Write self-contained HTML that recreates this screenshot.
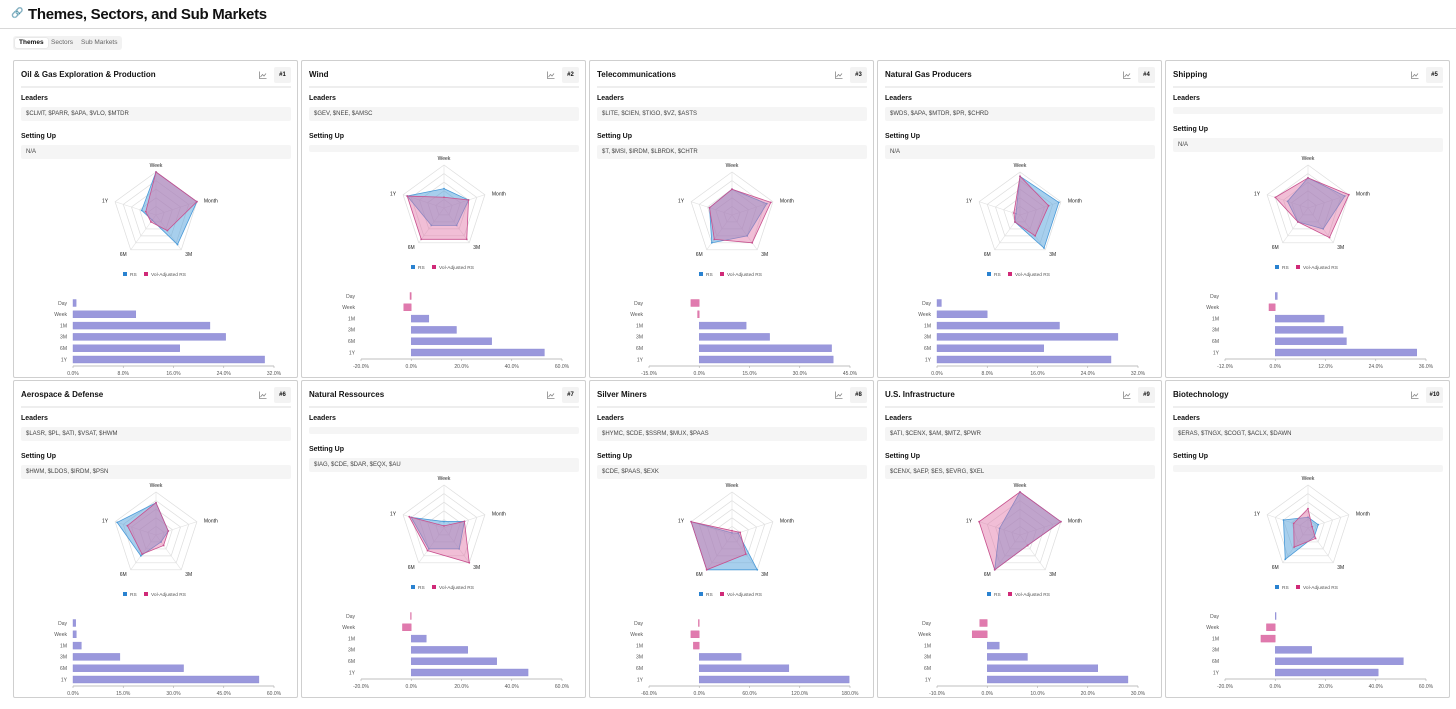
<!DOCTYPE html>
<html><head><meta charset="utf-8">
<style>
*{box-sizing:border-box;margin:0;padding:0}
body{width:1456px;height:702px;background:#fff;font-family:"Liberation Sans",sans-serif;position:relative;overflow:hidden;color:#111}
#hdr{position:absolute;left:0;top:0;width:1456px;height:29px;border-bottom:1px solid #d8d8d8}
#hdr .t{position:absolute;left:28px;top:6px;font-size:15px;font-weight:bold;letter-spacing:-0.3px}
#hdr .i{position:absolute;left:11px;top:8px;font-size:10px;color:#8ab4e8}
#tabs{position:absolute;left:13px;top:36px;width:109px;height:14px;background:#f2f2f2;border-radius:3px;font-size:6.5px}
#tabs span{position:absolute;top:2px;height:10px;line-height:10px;padding:0 4px;color:#666;white-space:nowrap}
#tabs .a{background:#fff;color:#111;font-weight:bold;border-radius:2px;box-shadow:0 0 1px #bbb}
.card{position:absolute;width:285px;height:318px;border:1px solid #cfcfcf;border-radius:2px;background:#fff}
.ct{position:absolute;left:7px;top:9px;font-size:8px;font-weight:bold;white-space:nowrap}
.ic{position:absolute;left:245px;top:10px;width:8px;height:8px}
.bd{position:absolute;left:260px;top:6px;width:17px;height:16px;background:#f3f3f3;border-radius:2px;font-size:6px;font-weight:bold;text-align:center;line-height:16px}
.hr{position:absolute;left:7px;top:25px;width:270px;height:2px;background:#eee}
.lb{position:absolute;left:7px;font-size:7px;font-weight:bold}
.bx{position:absolute;left:7px;width:270px;background:#f5f5f5;border-radius:2px;font-size:6px;color:#444;padding-left:5px;line-height:14px}
svg.ch{position:absolute;left:0}
</style></head><body>
<div id="hdr"><span class="i">🔗</span><span class="t">Themes, Sectors, and Sub Markets</span></div>
<div id="tabs"><span class="a" style="left:2px">Themes</span><span style="left:34px">Sectors</span><span style="left:64px">Sub Markets</span></div>
<div id="root"></div>
<script>
const titles=["Oil & Gas Exploration & Production","Wind","Telecommunications","Natural Gas Producers","Shipping","Aerospace & Defense","Natural Ressources","Silver Miners","U.S. Infrastructure","Biotechnology"];
const leaders=["$CLMT, $PARR, $APA, $VLO, $MTDR","$GEV, $NEE, $AMSC","$LITE, $CIEN, $TIGO, $VZ, $ASTS","$WDS, $APA, $MTDR, $PR, $CHRD","","$LASR, $PL, $ATI, $VSAT, $HWM","","$HYMC, $CDE, $SSRM, $MUX, $PAAS","$ATI, $CENX, $AM, $MTZ, $PWR","$ERAS, $TNGX, $COGT, $ACLX, $DAWN"];
const settingUp=["N/A","","$T, $MSI, $IRDM, $LBRDK, $CHTR","N/A","N/A","$HWM, $LDOS, $IRDM, $PSN","$IAG, $CDE, $DAR, $EQX, $AU","$CDE, $PAAS, $EXK","$CENX, $AEP, $ES, $EVRG, $XEL",""];
const radarAxes=["Week","Month","3M","6M","1Y"];
const rsValues=[[100,100,85,15,35],[45,60,50,50,90],[60,85,60,80,55],[90,95,95,20,10],[70,90,60,40,50],[75,30,20,60,95],[15,50,60,60,80],[5,15,100,100,100],[100,100,30,100,50],[25,25,25,90,60]];
const volValues=[[100,100,45,20,25],[25,60,90,90,90],[60,95,80,70,55],[90,70,60,20,15],[70,100,85,40,80],[75,30,30,55,70],[5,50,100,65,85],[10,20,55,100,100],[100,100,30,100,100],[45,10,30,55,35]];
const barCats=["Day","Week","1M","3M","6M","1Y"];
const barValues=[[0.5,10,21.8,24.3,17,30.5],[-0.5,-3,7,18,32,53],[-2.5,-0.5,14,21,39.5,40],[0.7,8,19.5,28.8,17,27.7],[0.5,-1.5,11.7,16.2,17,33.8],[0.8,1,2.5,14,33,55.5],[-0.3,-3.5,6,22.5,34,46.5],[-1,-10,-7,50,107,179],[-1.5,-3,2.4,8,22,28],[0.2,-3.5,-5.7,14.5,51,41]];
const axisMin=[0,-20,-15,0,-12,0,-20,-60,-10,-20];
const axisMax=[32,60,45,32,36,60,60,180,30,60];
const NS="http://www.w3.org/2000/svg";
function el(t,a,p){const e=document.createElementNS(NS,t);for(const k in a)e.setAttribute(k,a[k]);p.appendChild(e);return e;}
const root=document.getElementById('root');
titles.forEach((title,i)=>{
  const col=i%5,row=Math.floor(i/5);
  const c=document.createElement('div');c.className='card';
  
  
  c.style.left=(13+col*288)+'px';c.style.top=(60+row*320)+'px';
  root.appendChild(c);
  let h=`<div class="ct">${title}</div><svg class="ic" viewBox="0 0 8 8"><path d="M0.5 0.5V7.5H7.5" fill="none" stroke="#888" stroke-width="0.8"/><path d="M1.5 6L3.5 3.5L5 5L7 2.5" fill="none" stroke="#888" stroke-width="0.8"/></svg><div class="bd">#${i+1}</div><div class="hr"></div>`;
  let y=38;
  h+=`<div class="lb" style="top:${y-4}px">Leaders</div>`;
  const lh=leaders[i]?14:7;
  h+=`<div class="bx" style="top:${y+8}px;height:${lh}px">${leaders[i]}</div>`;
  y=y+8+lh+16;
  h+=`<div class="lb" style="top:${y-4}px">Setting Up</div>`;
  const sh=settingUp[i]?14:7;
  h+=`<div class="bx" style="top:${y+8}px;height:${sh}px">${settingUp[i]}</div>`;
  const bb=y+8+sh;
  c.innerHTML=h;
  const svg=el('svg',{width:285,height:230,class:'ch'},c);svg.style.top=bb+'px';
  
  
  const cx=142,cy=56,R=43;
  const pt=(k,f)=>{const a=-Math.PI/2+k*2*Math.PI/5;return [cx+R*f*Math.cos(a),cy+R*f*Math.sin(a)];};
  for(let r=1;r<=5;r++){const p=[0,1,2,3,4].map(k=>pt(k,r/5).join(',')).join(' ');el('polygon',{points:p,fill:'none',stroke:'#ddd','stroke-width':0.7},svg);}
  for(let k=0;k<5;k++){const q=pt(k,1);el('line',{x1:cx,y1:cy,x2:q[0],y2:q[1],stroke:'#e2e2e2','stroke-width':0.6},svg);}
  const series=[[rsValues[i],'rgba(80,160,220,0.5)','#4a9ad8','rs'],[volValues[i],'rgba(225,110,165,0.45)','#c8508e','vol']];
  series.forEach(s=>{
    const p=s[0].map((v,k)=>pt(k,v/100).join(',')).join(' ');
    const pg=el('polygon',{points:p,fill:s[1],stroke:s[2],'stroke-width':0.8},svg);
    
    
    s[0].forEach((v,k)=>{const q=pt(k,v/100);el('circle',{cx:q[0],cy:q[1],r:0.9,fill:s[2]},svg);});
  });
  const lp=[[0,-5,'middle'],[7,1,'start'],[4,6,'start'],[-4,6,'end'],[-7,1,'end']];
  radarAxes.forEach((a,k)=>{const q=pt(k,1);const t=el('text',{x:q[0]+lp[k][0],y:q[1]+lp[k][1],'font-size':5,'text-anchor':lp[k][2],fill:'#222'},svg);t.textContent=a;
    
    });
  const lg=el('g',{},svg);
  
  
  el('rect',{x:109,y:113,width:4,height:4,fill:'#2a82d0'},lg);
  el('text',{x:116,y:117,'font-size':4.8,fill:'#555'},lg).textContent='RS';
  el('rect',{x:130,y:113,width:4,height:4,fill:'#d02a78'},lg);
  el('text',{x:137,y:117,'font-size':4.8,fill:'#555'},lg).textContent='Vol-Adjusted RS';
  const x0=59,x1=260,mn=axisMin[i],mx=axisMax[i];
  const sx=v=>x0+(v-mn)/(mx-mn)*(x1-x0);
  barValues[i].forEach((v,k)=>{
    const yc=144+k*11.3;
    const lt=el('text',{x:x0-6,y:yc+1.8,'font-size':5,'text-anchor':'end',fill:'#555'},svg);lt.textContent=barCats[k];
    
    
    const a=sx(Math.min(0,v)),b=sx(Math.max(0,v));
    const r=el('rect',{x:a,y:yc-3.5,width:Math.max(b-a,0.8),height:7,fill:v<0?'#e07aae':'#9a98dc',stroke:v<0?'#d8689e':'#8c8ad4','stroke-width':0.4},svg);
    
    
  });
  el('line',{x1:x0,y1:207,x2:x1,y2:207,stroke:'#aaa','stroke-width':0.7},svg);
  for(let t=0;t<=4;t++){const v=mn+(mx-mn)*t/4;const x=sx(v);
    el('line',{x1:x,y1:207,x2:x,y2:209,stroke:'#aaa','stroke-width':0.6},svg);
    const tt=el('text',{x:x,y:216,'font-size':5,'text-anchor':'middle',fill:'#555'},svg);tt.textContent=v.toFixed(1)+'%';
    
    }
});
</script>
</body></html>
